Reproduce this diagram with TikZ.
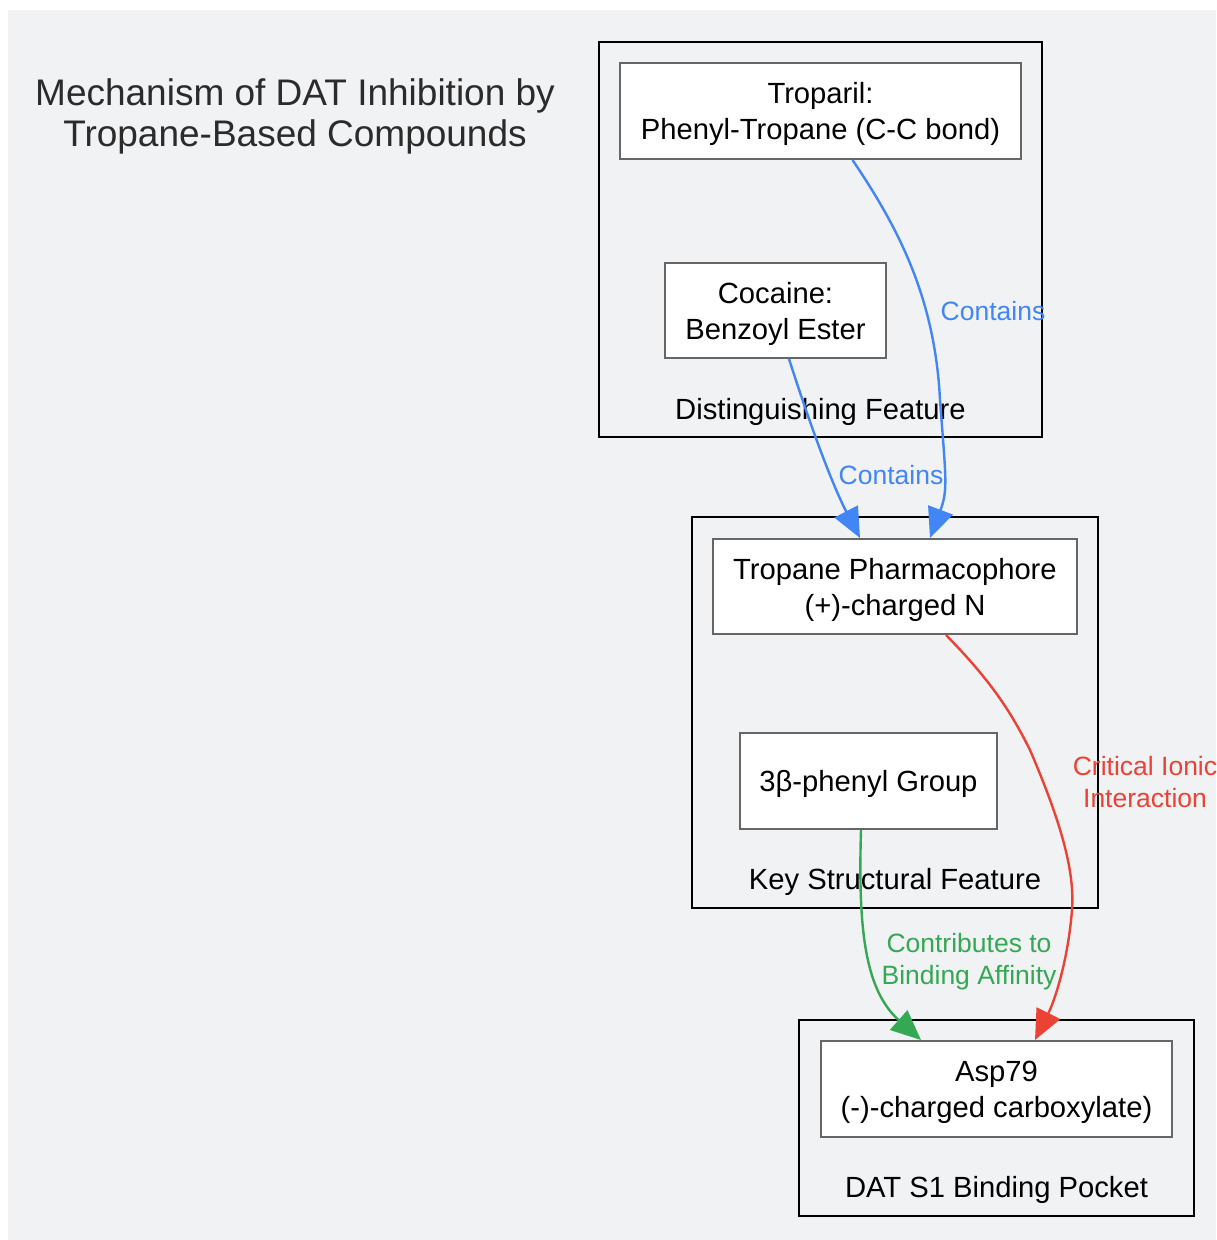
\documentclass[tikz,border=0pt]{standalone}
\usepackage{fontspec}
\setmainfont{Liberation Sans}
\usetikzlibrary{arrows.meta,calc}
\definecolor{bgc}{HTML}{F1F2F4}
\definecolor{nodeb}{HTML}{666666}
\definecolor{eblue}{HTML}{4285F4}
\definecolor{ered}{HTML}{EA4335}
\definecolor{egreen}{HTML}{34A853}
\definecolor{titlec}{HTML}{2B2B2B}
\tikzset{
  box/.style={draw=nodeb, line width=2pt, fill=white, inner sep=0pt},
  btext/.style={align=center, inner sep=0pt, font=\fontsize{29.2}{36}\selectfont},
  cluster/.style={draw=black, line width=2pt, inner sep=0pt},
  clabel/.style={font=\fontsize{29.2}{36}\selectfont, inner sep=0pt},
  elabel/.style={font=\fontsize{26.5}{32}\selectfont, align=center, inner sep=0pt},
  edge/.style={line width=2.4pt, -{Triangle[length=30pt,width=26pt]}},
}
\begin{document}
\begin{tikzpicture}[x=1pt,y=-1pt]
\useasboundingbox (0,0) rectangle (1216,1240);
\fill[bgc] (8,10) rectangle (1216,1240);
% title
\node[font=\fontsize{37}{41}\selectfont, text=titlec, align=center, inner sep=0pt] (title) at (295,116)
  {Mechanism of DAT Inhibition by\\Tropane-Based Compounds};
% clusters
\node[cluster, minimum width=443pt, minimum height=395pt] (c1) at (820.5,239.5) {};
\node[cluster, minimum width=406pt, minimum height=391pt] (c2) at (895,712.5) {};
\node[cluster, minimum width=395pt, minimum height=196pt] (c3) at (996.5,1118) {};
\node[clabel] (l1) at (820.5,412) {Distinguishing Feature};
\node[clabel] (l2) at (895,882) {Key Structural Feature};
\node[clabel] (l3) at (996.5,1190) {DAT S1 Binding Pocket};
% nodes
\node[box, minimum width=401pt, minimum height=96pt] (trop) at (820.5,111) {};
\node[box, minimum width=221pt, minimum height=95pt] (coc) at (775.5,310.5) {};
\node[box, minimum width=364pt, minimum height=95pt] (pharm) at (895,586.5) {};
\node[box, minimum width=257pt, minimum height=96pt] (phen) at (868.5,781) {};
\node[box, minimum width=351pt, minimum height=96pt] (asp) at (996.5,1089) {};
\node[btext] (troptext) at ([yshift=-3pt]trop.center) {Troparil:\\Phenyl-Tropane (C-C bond)};
\node[btext] (coctext) at ([yshift=-3pt]coc.center) {Cocaine:\\Benzoyl Ester};
\node[btext] (pharmtext) at ([yshift=-3pt]pharm.center) {Tropane Pharmacophore\\(+)-charged N};
\node[btext] (phentext) at ([yshift=-3pt]phen.center) {3β-phenyl Group};
\node[btext] (asptext) at ([yshift=-3pt]asp.center) {Asp79\\(-)-charged carboxylate)};
% edges
\draw[edge, eblue] ([xshift=32pt]trop.south) .. controls (900,230) and (935,300) .. (940,400)
  .. controls (946,480) and (948,490) .. ([xshift=35pt]pharm.north);
\draw[edge, eblue] ([xshift=13.5pt]coc.south) .. controls (815,440) and (835,490) .. ([xshift=-35pt]pharm.north);
\draw[edge, ered] ([xshift=51pt]pharm.south) .. controls (990,680) and (1010,710) .. (1030,750)
  .. controls (1060,820) and (1075,870) .. (1072,910)
  .. controls (1068,960) and (1055,1000) .. ([xshift=38.5pt]asp.north);
\draw[edge, egreen] ([xshift=-7.5pt]phen.south) .. controls (858,930) and (865,990) .. ([xshift=-75.5pt]asp.north);
% edge labels
\node[elabel, text=eblue] (e1) at (993,311) {Contains};
\node[elabel, text=eblue] (e2) at (891,475) {Contains};
\node[elabel, text=ered] (e3) at (1145,782) {Critical Ionic\\Interaction};
\node[elabel, text=egreen] (e4) at (969,962) {Contributes to\\Binding Affinity};
\end{tikzpicture}
\end{document}
